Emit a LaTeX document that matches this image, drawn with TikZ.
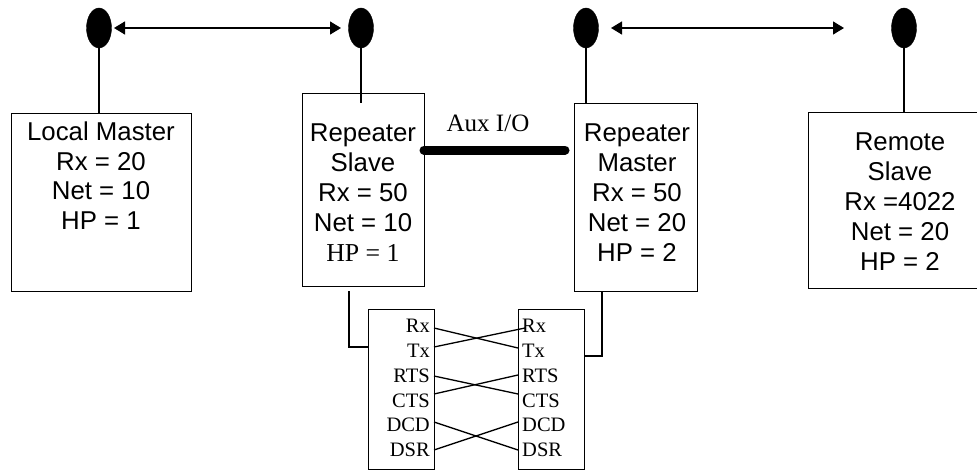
\documentclass[tikz,border=0pt]{standalone}
\usepackage{fontspec}
\setmainfont{Liberation Serif}
\setsansfont{Liberation Sans}
\usetikzlibrary{arrows.meta,shapes.geometric}
\tikzset{
 x=1pt,y=-1pt,
 box/.style={draw,line width=1.3pt,inner sep=0,anchor=north west},
 ant/.style={ellipse,fill=black,draw=black,inner sep=0,minimum width=25pt,minimum height=40pt},
 wire/.style={line width=1.3pt},
 link/.style={line width=1.3pt,{Triangle[length=11pt,width=13pt]}-{Triangle[length=11pt,width=13pt]}},
 info/.style={align=center,inner sep=0,anchor=north,font=\sffamily\fontsize{25.8}{29.8}\selectfont},
 pin/.style={inner sep=0,font=\rmfamily\fontsize{20.5}{20.5}\selectfont},
}
\begin{document}
\begin{tikzpicture}
\useasboundingbox (0,0) rectangle (977,471);
\node[box,minimum width=180pt,minimum height=178pt] (lm) at (11,113) {};
\node[box,minimum width=122pt,minimum height=193pt] (rs) at (302,93) {};
\node[box,minimum width=123pt,minimum height=188pt] (rm) at (574,103) {};
\node[box,minimum width=182pt,minimum height=176pt] (re) at (808,112) {};
\node[info] (lmt) at (101,121.5) {Local Master\\Rx = 20\\Net = 10\\HP = 1};
\node[info] (rst) at (363,124) {Repeater\\Slave\\Rx = 50\\Net = 10\\{\rmfamily HP = 1}};
\node[info] (rmt) at (637,124) {Repeater\\Master\\Rx = 50\\Net = 20\\HP = 2};
\node[info] (ret) at (900,133) {Remote\\Slave\\Rx =4022\\Net = 20\\HP = 2};
\node[ant] (a1) at (99,28) {};
\node[ant] (a2) at (361,28) {};
\node[ant] (a3) at (586,28) {};
\node[ant] (a4) at (904,28) {};
\coordinate (a1b) at (99,113);
\coordinate (a2b) at (361,103);
\coordinate (a3b) at (586,103);
\coordinate (a4b) at (904,112);
\draw[wire] (a1) -- (a1b);
\draw[wire] (a2) -- (a2b);
\draw[wire] (a3) -- (a3b);
\draw[wire] (a4) -- (a4b);
\coordinate (e1) at (114,28);
\coordinate (e2) at (341,28);
\coordinate (e3) at (611,28);
\coordinate (e4) at (844,28);
\draw[link] (e1) -- (e2);
\draw[link] (e3) -- (e4);
\coordinate (auxl) at (424,150);
\coordinate (auxr) at (565,150);
\draw[line width=9pt,line cap=round] (auxl) -- (auxr);
\node[inner sep=0,font=\rmfamily\fontsize{25}{25}\selectfont] (aux) at (488,123) {Aux I/O};
\node[box,minimum width=66pt,minimum height=160pt] (cl) at (368,309) {};
\node[box,minimum width=66pt,minimum height=160pt] (cr) at (518,309) {};
\foreach \n/\t/\y in {a/Rx/332,b/Tx/357,c/RTS/382,d/CTS/407,e/DCD/431,f/DSR/456}{
 \node[pin,anchor=base east] (l\n) at (430,\y) {\t};
 \node[pin,anchor=base west] (r\n) at (522,\y) {\t};
}
\coordinate (sb) at (349,291);
\coordinate (sc) at (349,347);
\coordinate (sd) at (368,347);
\coordinate (mb) at (602,291);
\coordinate (mc) at (602,356);
\coordinate (md) at (584,356);
\draw[wire] (sb) -- (sc) -- (sd);
\draw[wire] (md) -- (mc) -- (mb);
\draw[wire] (434,328) -- (518,348);
\draw[wire] (434,347) -- (525,328);
\draw[wire] (434,376) -- (518,394);
\draw[wire] (434,394) -- (518,375);
\draw[wire] (434,422) -- (518,450);
\draw[wire] (434,450) -- (518,422);
\end{tikzpicture}
\end{document}
